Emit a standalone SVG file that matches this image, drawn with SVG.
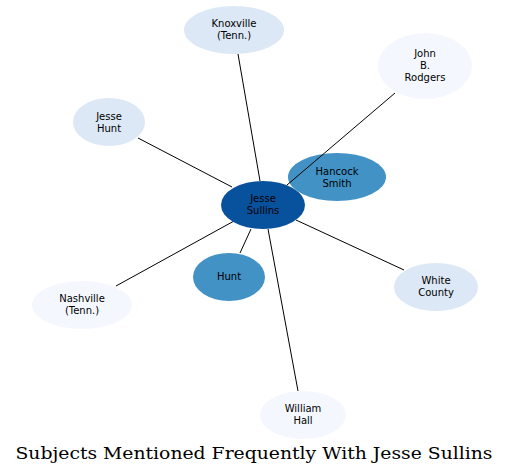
<svg xmlns="http://www.w3.org/2000/svg" width="511" height="476" viewBox="0 0 511 476">
<style>
.n text{font-family:"DejaVu Sans",sans-serif;font-size:10px;text-anchor:middle;fill:#000}
.e line{stroke:#000;stroke-width:1}
.l1{fill:#f4f8fe}.l2{fill:#dce8f5}.l3{fill:#4292c6}.l4{fill:#08519c}
.t{font-family:"DejaVu Serif",serif;font-size:17px;text-anchor:middle;fill:#000}
</style>
<rect width="511" height="476" fill="#fff"/>
<g id="knoxville" class="n"><ellipse class="l2" cx="234" cy="30" rx="50" ry="24"/><text x="234" y="27">Knoxville</text><text x="234" y="39">(Tenn.)</text></g>
<g id="rodgers" class="n"><ellipse class="l1" cx="425" cy="66" rx="47" ry="33"/><text x="425" y="57">John</text><text x="425" y="69">B.</text><text x="425" y="81">Rodgers</text></g>
<g id="jesse-hunt" class="n"><ellipse class="l2" cx="109" cy="122" rx="36" ry="24"/><text x="109" y="120">Jesse</text><text x="109" y="132">Hunt</text></g>
<g id="hancock" class="n"><ellipse class="l3" cx="337" cy="177" rx="49" ry="24"/><text x="337" y="175">Hancock</text><text x="337" y="187">Smith</text></g>
<g id="hunt" class="n"><ellipse class="l3" cx="229" cy="277" rx="36" ry="24"/><text x="229" y="280">Hunt</text></g>
<g id="nashville" class="n"><ellipse class="l1" cx="82" cy="305" rx="50" ry="24"/><text x="82" y="302">Nashville</text><text x="82" y="314">(Tenn.)</text></g>
<g id="white-county" class="n"><ellipse class="l2" cx="436" cy="287" rx="42" ry="24"/><text x="436" y="284">White</text><text x="436" y="296">County</text></g>
<g id="william-hall" class="n"><ellipse class="l1" cx="303" cy="415" rx="43" ry="24"/><text x="303" y="412">William</text><text x="303" y="424">Hall</text></g>
<g id="connectors" class="e">
<line x1="260" y1="181" x2="238" y2="54"/>
<line x1="287" y1="185" x2="395" y2="93"/>
<line x1="232" y1="187" x2="138" y2="138"/>
<line x1="234" y1="221" x2="116" y2="286"/>
<line x1="251" y1="229" x2="240" y2="253"/>
<line x1="296" y1="220" x2="404" y2="270"/>
<line x1="268" y1="229" x2="298" y2="391"/>
</g>
<g id="jesse-sullins" class="n"><ellipse class="l4" cx="263" cy="205" rx="42" ry="24"/><text x="263" y="202">Jesse</text><text x="263" y="214">Sullins</text></g>
<text class="t" x="254" y="459" textLength="477" lengthAdjust="spacingAndGlyphs">Subjects Mentioned Frequently With Jesse Sullins</text>
</svg>
